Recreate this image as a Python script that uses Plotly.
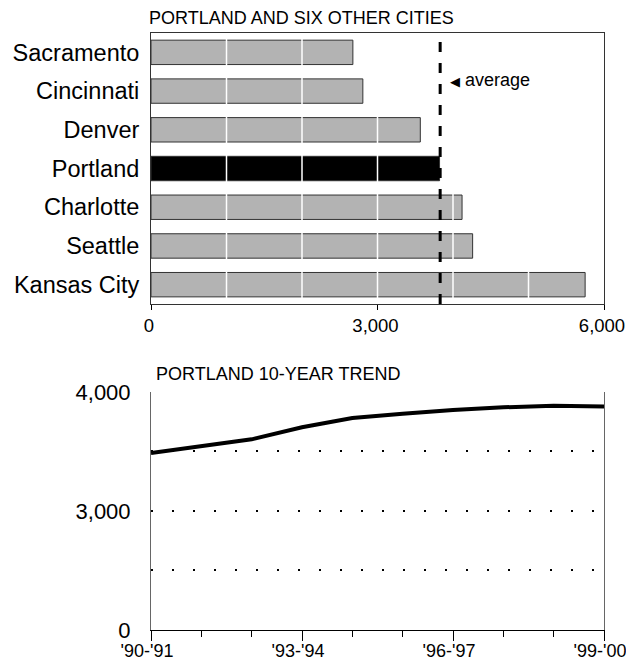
import plotly.graph_objects as go

# Datos
CITIES = ['Sacramento', 'Cincinnati', 'Denver', 'Portland', 'Charlotte', 'Seattle', 'Kansas City']
VALUES = [2674, 2806, 3567, 3822, 4120, 4260, 5750]
AVERAGE = 3830
HIGHLIGHT = 'Portland'

YEARS = ["'90-'91", "'91-'92", "'92-'93", "'93-'94", "'94-'95",
         "'95-'96", "'96-'97", "'97-'98", "'98-'99", "'99-'00"]
TREND = [3487, 3545, 3602, 3703, 3782, 3818, 3849, 3871, 3885, 3877]
YEAR_LABELS = ["'90-'91", "'93-'94", "'96-'97", "'99-'00"]

Y_TICKS = [2000, 2500, 3000, 3500, 4000]
Y_TEXT = ['0', '', '3,000', '', '4,000']

FONT = 'Liberation Sans, Arial, sans-serif'

fig = go.Figure()

# Barras comparativas
fig.add_trace(go.Bar(
    y=CITIES,
    x=VALUES,
    orientation='h',
    marker=dict(
        color=['black' if c == HIGHLIGHT else '#b3b3b3' for c in CITIES],
        line=dict(color='#333333', width=1)
    ),
    xaxis='x', yaxis='y',
    showlegend=False
))

# Tendência de 10 anos
fig.add_trace(go.Scatter(
    x=[YEARS.index(y) for y in YEARS],
    y=TREND,
    mode='lines',
    line=dict(color='black', width=4),
    xaxis='x2', yaxis='y2',
    showlegend=False
))

shapes = []
for v in range(1000, 6000, 1000):
    shapes.append(dict(type='line', xref='x', yref='y domain', x0=v, x1=v,
                       y0=0.004, y1=0.996, line=dict(color='white', width=1.5),
                       layer='above'))
shapes.append(dict(type='line', xref='x', yref='y domain', x0=AVERAGE, x1=AVERAGE,
                   y0=0, y1=1, line=dict(color='black', width=3, dash='10px,11px'),
                   layer='above'))

# a página tem margem de 8px no body
fig.update_layout(
    width=634, height=657,
    margin=dict(l=143, r=38, t=25, b=35),
    plot_bgcolor='white', paper_bgcolor='white',
    font=dict(family=FONT, color='black'),
    bargap=0.37,
    shapes=shapes,
    xaxis=dict(
        domain=[0, 1], anchor='y', range=[0, 6000], automargin=False,
        tickvals=[0, 3000, 6000], tickformat=',d',
        ticks='outside', ticklen=5, tickcolor='black',
        showgrid=False, zeroline=False, ticklabeloverflow='allow',
        ticklabelshift=-2,
        showline=True, linecolor='#333333', linewidth=1, mirror=True,
        tickfont=dict(size=18.5)
    ),
    yaxis=dict(
        domain=[0.546, 1], anchor='x', autorange='reversed', automargin=False,
        showgrid=False, ticks='',
        showline=True, linecolor='#333333', linewidth=1, mirror=True,
        tickfont=dict(size=23.5), ticklabelstandoff=6
    ),
    xaxis2=dict(
        domain=[0, 1], anchor='y2', range=[0, len(YEARS) - 1], automargin=False,
        tickvals=[YEARS.index(y) for y in YEAR_LABELS], ticktext=YEAR_LABELS,
        ticks='outside', ticklen=10, tickcolor='black',
        minor=dict(dtick=1, tick0=0, ticks='outside', ticklen=6, tickcolor='black'),
        showgrid=False, zeroline=False, ticklabeloverflow='allow',
        ticklabelstandoff=-6, ticklabelshift=-4,
        showline=True, linecolor='black', linewidth=1,
        tickfont=dict(size=18)
    ),
    yaxis2=dict(
        domain=[0, 0.3987], anchor='x2', range=[2000, 4000], automargin=False,
        tickvals=Y_TICKS, ticktext=Y_TEXT,
        showgrid=True, gridcolor='black', gridwidth=1.5, griddash='1.5px,19.5px',
        ticks='', zeroline=False,
        showline=True, linecolor='#666666', linewidth=1, mirror=True,
        tickfont=dict(size=22), ticklabelstandoff=15
    ),
    annotations=[
        dict(text='PORTLAND AND SIX OTHER CITIES', xref='paper', yref='paper',
             x=0, y=1, xanchor='left', yanchor='bottom', xshift=-4, yshift=3,
             showarrow=False, font=dict(size=18)),
        dict(text='PORTLAND 10-YEAR TREND', xref='paper', yref='paper',
             x=0, y=0.3987, xanchor='left', yanchor='bottom', xshift=3, yshift=6,
             showarrow=False, font=dict(size=18)),
        dict(text="<span style='font-size:13px'>◀</span> average", xref='x', yref='y',
             x=AVERAGE, y='Cincinnati', xanchor='left', xshift=8, yshift=11,
             showarrow=False, font=dict(size=18)),
    ]
)

fig.write_html("out.html")
